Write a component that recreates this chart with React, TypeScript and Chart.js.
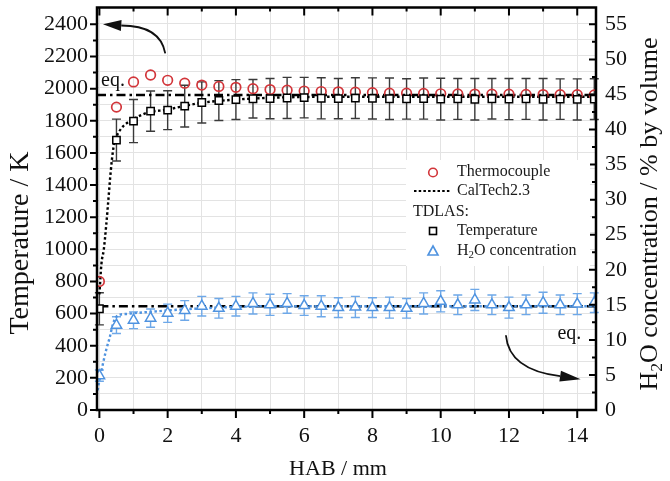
import React, { useEffect, useRef } from "react";
import { Chart, registerables } from "chart.js";
Chart.register(...registerables);

// ---------------- data ----------------
const habPositions = [0, 0.5, 1, 1.5, 2, 2.5, 3, 3.5, 4, 4.5, 5, 5.5, 6, 6.5, 7, 7.5, 8, 8.5, 9, 9.5, 10, 10.5, 11, 11.5, 12, 12.5, 13, 13.5, 14, 14.5];
const thermocoupleK = [800, 1885, 2042, 2085, 2052, 2034, 2022, 2014, 2008, 2000, 1994, 1990, 1985, 1982, 1980, 1978, 1975, 1972, 1972, 1970, 1968, 1967, 1966, 1965, 1965, 1964, 1963, 1962, 1962, 1961];
const tdlasTempK = [630, 1680, 1798, 1860, 1866, 1891, 1914, 1926, 1932, 1937, 1938, 1942, 1944, 1940, 1938, 1941, 1939, 1937, 1936, 1938, 1935, 1936, 1934, 1937, 1935, 1936, 1934, 1935, 1933, 1935];
const tdlasTempErrK = [100, 130, 134, 125, 121, 130, 128, 124, 124, 120, 125, 128, 126, 128, 125, 127, 128, 129, 126, 128, 130, 127, 129, 126, 128, 127, 129, 126, 128, 127];
const tdlasH2O = [4.9, 12.1, 12.8, 13.1, 13.8, 14.2, 14.8, 14.5, 14.8, 15.2, 15.0, 15.2, 14.9, 14.8, 14.6, 14.7, 14.6, 14.6, 14.5, 15.2, 15.5, 15.0, 15.7, 15.0, 14.6, 15.0, 15.3, 15.0, 15.1, 15.3];
const tdlasH2OErr = [0.8, 1.2, 1.2, 1.3, 1.3, 1.4, 1.4, 1.4, 1.4, 1.5, 1.5, 1.4, 1.4, 1.5, 1.4, 1.5, 1.4, 1.5, 1.4, 1.5, 1.5, 1.4, 1.5, 1.4, 1.5, 1.4, 1.5, 1.4, 1.5, 1.4];
const caltechHab = [0, 0.06, 0.13, 0.2, 0.26, 0.33, 0.41, 0.5, 0.66, 0.8, 1, 1.4, 2, 2.5, 3, 4, 5, 6, 8, 10, 12, 14.55];
const caltechTempK = [720, 910, 1000, 1150, 1300, 1480, 1630, 1700, 1757, 1785, 1811, 1850, 1870, 1893, 1912, 1932, 1943, 1948, 1950, 1950, 1950, 1950];
const caltechH2OHab = [-0.05, 0, 0.1, 0.2, 0.3, 0.4, 0.5, 0.6, 0.8, 1, 1.5, 2, 3, 4, 5, 6, 8, 10, 12, 14.55];
const caltechH2O = [2.8, 4.2, 6.5, 8.6, 10.3, 12.3, 13.3, 13.6, 13.7, 13.8, 14.0, 14.2, 14.5, 14.7, 14.8, 14.8, 14.8, 14.8, 14.8, 14.8];
const eqTempK = 1960;
const eqH2O = 14.8;
const eqRange = [-0.07, 14.55];

const tempTickLabels = [0, 200, 400, 600, 800, 1000, 1200, 1400, 1600, 1800, 2000, 2200, 2400];

const xRange = [-0.07, 14.55];
const tempRange = [0, 2505];
const h2oRange = [0, 57.4];

// ---------------- style ----------------
const SERIF = "'Liberation Serif', 'Times New Roman', Times, serif";
const RED = "#d2353a";
const BLUE = "#4f93e0";
const BLUE_ERR = "#6ea8e8";
const GRID = "#e3e3e3";

const pts = (xs: number[], ys: number[]) => xs.map((x, i) => ({ x, y: ys[i] }));

function richText(ctx: CanvasRenderingContext2D, parts: { t: string; sub?: boolean }[], x: number, y: number, size: number, align: "left" | "center") {
  const widths = parts.map((p) => {
    ctx.font = `${p.sub ? size * 0.68 : size}px ${SERIF}`;
    return ctx.measureText(p.t).width;
  });
  const total = widths.reduce((a, b) => a + b, 0);
  let cx = align === "center" ? x - total / 2 : x;
  ctx.textAlign = "left";
  ctx.textBaseline = "middle";
  parts.forEach((p, i) => {
    ctx.font = `${p.sub ? size * 0.68 : size}px ${SERIF}`;
    ctx.fillText(p.t, cx, p.sub ? y + size * 0.28 : y);
    cx += widths[i];
  });
}

const decorPlugin = {
  id: "decor",
  beforeDatasetsDraw(chart: any) {
    const { ctx } = chart;
    const xs = chart.scales.x, yL = chart.scales.y, yR = chart.scales.y2;
    const cap = 4.5;
    ctx.save();
    ctx.lineWidth = 1.4;
    ctx.strokeStyle = "#3a3a3a";
    habPositions.forEach((h, i) => {
      const px = xs.getPixelForValue(h);
      const t = yL.getPixelForValue(tdlasTempK[i] + tdlasTempErrK[i]);
      const b = yL.getPixelForValue(tdlasTempK[i] - tdlasTempErrK[i]);
      ctx.beginPath();
      ctx.moveTo(px, t); ctx.lineTo(px, b);
      ctx.moveTo(px - cap, t); ctx.lineTo(px + cap, t);
      ctx.moveTo(px - cap, b); ctx.lineTo(px + cap, b);
      ctx.stroke();
    });
    ctx.strokeStyle = BLUE_ERR;
    habPositions.forEach((h, i) => {
      const px = xs.getPixelForValue(h);
      const t = yR.getPixelForValue(tdlasH2O[i] + tdlasH2OErr[i]);
      const b = yR.getPixelForValue(tdlasH2O[i] - tdlasH2OErr[i]);
      ctx.beginPath();
      ctx.moveTo(px, t); ctx.lineTo(px, b);
      ctx.moveTo(px - cap, t); ctx.lineTo(px + cap, t);
      ctx.moveTo(px - cap, b); ctx.lineTo(px + cap, b);
      ctx.stroke();
    });
    ctx.restore();
  },
  afterDraw(chart: any) {
    const { ctx, chartArea: a } = chart;
    const xs = chart.scales.x, yL = chart.scales.y, yR = chart.scales.y2;
    ctx.save();
    // frame
    ctx.strokeStyle = "#000";
    ctx.lineWidth = 2.5;
    ctx.strokeRect(a.left, a.top, a.right - a.left, a.bottom - a.top);
    // ticks
    ctx.lineWidth = 2;
    ctx.beginPath();
    for (let v = 0; v <= 14; v++) {
      const px = xs.getPixelForValue(v);
      const len = v % 2 === 0 ? 8 : 4;
      ctx.moveTo(px, a.bottom); ctx.lineTo(px, a.bottom + len);
      ctx.moveTo(px, a.top); ctx.lineTo(px, a.top + len);
    }
    for (let v = 0; v <= 2400; v += 100) {
      const py = yL.getPixelForValue(v);
      const len = v % 200 === 0 ? 7 : 4;
      ctx.moveTo(a.left, py); ctx.lineTo(a.left - len, py);
    }
    for (let v = 0; v <= 55; v += 2.5) {
      const py = yR.getPixelForValue(v);
      const len = v % 5 === 0 ? 7 : 4;
      ctx.moveTo(a.right, py); ctx.lineTo(a.right - len, py);
    }
    ctx.stroke();

    // left tick labels
    ctx.fillStyle = "#111";
    ctx.font = `22px ${SERIF}`;
    ctx.textAlign = "right";
    ctx.textBaseline = "middle";
    tempTickLabels.forEach((v) => ctx.fillText(String(v), a.left - 9, yL.getPixelForValue(v)));

    // axis titles
    ctx.save();
    ctx.translate(21, 243);
    ctx.rotate(-Math.PI / 2);
    richText(ctx, [{ t: "Temperature / K" }], 0, 0, 28, "center");
    ctx.restore();
    ctx.save();
    ctx.translate(650, 214);
    ctx.rotate(-Math.PI / 2);
    richText(ctx, [{ t: "H" }, { t: "2", sub: true }, { t: "O concentration / % by volume" }], 0, 0, 26, "center");
    ctx.restore();
    richText(ctx, [{ t: "HAB / mm" }], 338, 469, 22, "center");

    // eq labels
    ctx.fillStyle = "#111";
    ctx.font = `20px ${SERIF}`;
    ctx.textBaseline = "alphabetic";
    ctx.textAlign = "left";
    ctx.fillText("eq.", xs.getPixelForValue(0.05), yL.getPixelForValue(2015));
    ctx.textAlign = "right";
    ctx.fillText("eq.", xs.getPixelForValue(14.12), yR.getPixelForValue(10.1));

    // arrows
    const arrow = (s: number[], c: number[], e: number[], tip: number[]) => {
      ctx.strokeStyle = "#111";
      ctx.fillStyle = "#111";
      ctx.lineWidth = 1.8;
      ctx.beginPath();
      ctx.moveTo(s[0], s[1]);
      ctx.quadraticCurveTo(c[0], c[1], e[0], e[1]);
      ctx.stroke();
      const ang = Math.atan2(tip[1] - e[1], tip[0] - e[0]);
      const len = Math.hypot(tip[0] - e[0], tip[1] - e[1]);
      const hw = 5.5;
      const bx = tip[0] - Math.cos(ang) * len, by = tip[1] - Math.sin(ang) * len;
      ctx.beginPath();
      ctx.moveTo(tip[0], tip[1]);
      ctx.lineTo(bx + Math.sin(ang) * hw, by - Math.cos(ang) * hw);
      ctx.lineTo(bx - Math.sin(ang) * hw, by + Math.cos(ang) * hw);
      ctx.closePath();
      ctx.fill();
    };
    const L = (x: number, y: number) => [xs.getPixelForValue(x), yL.getPixelForValue(y)];
    const R = (x: number, y: number) => [xs.getPixelForValue(x), yR.getPixelForValue(y)];
    arrow(L(1.93, 2220), L(1.78, 2393), L(0.64, 2393), L(0.105, 2400));
    arrow(R(11.91, 10.66), R(12.0, 5.7), R(13.5, 4.83), R(14.1, 4.4));

    // legend
    ctx.fillStyle = "#fff";
    ctx.fillRect(406, 160, 184, 106);
    const fs = 16;
    ctx.fillStyle = "#1a1a1a";
    richText(ctx, [{ t: "Thermocouple" }], 457, 172, fs, "left");
    richText(ctx, [{ t: "CalTech2.3" }], 457, 191, fs, "left");
    richText(ctx, [{ t: "TDLAS:" }], 413, 212, fs, "left");
    richText(ctx, [{ t: "Temperature" }], 457, 231, fs, "left");
    richText(ctx, [{ t: "H" }, { t: "2", sub: true }, { t: "O concentration" }], 457, 251, fs, "left");
    ctx.lineWidth = 1.6;
    ctx.strokeStyle = RED;
    ctx.beginPath(); ctx.arc(433, 172.5, 4.3, 0, Math.PI * 2); ctx.stroke();
    ctx.strokeStyle = "#000";
    ctx.lineWidth = 2.2;
    ctx.setLineDash([2.5, 2.2]);
    ctx.beginPath(); ctx.moveTo(414, 191); ctx.lineTo(451, 191); ctx.stroke();
    ctx.setLineDash([]);
    ctx.lineWidth = 1.6;
    ctx.strokeRect(429.5, 227.5, 7, 7);
    ctx.strokeStyle = BLUE;
    ctx.beginPath(); ctx.moveTo(433, 246); ctx.lineTo(438, 255); ctx.lineTo(428, 255); ctx.closePath(); ctx.stroke();
    ctx.restore();
  },
};

const zeroPadV = (s: any, w: number) => { s.width = w; s.paddingTop = 0; s.paddingBottom = 0; };

export default function App() {
  const ref = useRef<HTMLCanvasElement>(null);
  useEffect(() => {
    const canvas = ref.current!;
    const chart = new Chart(canvas, {
      type: "scatter",
      data: {
        datasets: [
          {
            label: "Thermocouple",
            data: pts(habPositions, thermocoupleK),
            yAxisID: "y",
            pointStyle: "circle",
            pointRadius: 4.8,
            borderColor: RED,
            backgroundColor: "rgba(0,0,0,0)",
            pointBorderWidth: 1.7,
            showLine: false,
            order: 1,
          },
          {
            label: "TDLAS Temperature",
            data: pts(habPositions, tdlasTempK),
            yAxisID: "y",
            pointStyle: "rect",
            pointRadius: 5.2,
            borderColor: "#000",
            backgroundColor: "#fff",
            pointBorderWidth: 1.5,
            showLine: false,
            order: 0,
          },
          {
            label: "H2O concentration",
            data: pts(habPositions, tdlasH2O),
            yAxisID: "y2",
            pointStyle: "triangle",
            pointRadius: 6,
            borderColor: BLUE,
            backgroundColor: "#fff",
            pointBorderWidth: 1.5,
            showLine: false,
            order: 0,
          },
          {
            type: "line",
            label: "CalTech2.3",
            data: pts(caltechHab, caltechTempK),
            yAxisID: "y",
            borderColor: "#000",
            borderWidth: 2.4,
            borderDash: [2.5, 2.5],
            pointRadius: 0,
            cubicInterpolationMode: "monotone",
            fill: false,
            order: 6,
          },
          {
            type: "line",
            label: "CalTech2.3 H2O",
            data: pts(caltechH2OHab, caltechH2O),
            yAxisID: "y2",
            borderColor: BLUE,
            borderWidth: 2.4,
            borderDash: [2.5, 2.5],
            pointRadius: 0,
            cubicInterpolationMode: "monotone",
            fill: false,
            order: 6,
          },
          {
            type: "line",
            label: "eq T",
            data: pts(eqRange, [eqTempK, eqTempK]),
            yAxisID: "y",
            borderColor: "#000",
            borderWidth: 2.4,
            borderDash: [9, 4, 2.5, 4],
            pointRadius: 0,
            fill: false,
            order: 7,
          },
          {
            type: "line",
            label: "eq H2O",
            data: pts([0, eqRange[1]], [eqH2O, eqH2O]),
            yAxisID: "y2",
            borderColor: "#000",
            borderWidth: 2.4,
            borderDash: [9, 4, 2.5, 4],
            pointRadius: 0,
            fill: false,
            order: 7,
          },
        ],
      },
      options: {
        animation: false,
        responsive: false,
        devicePixelRatio: 1,
        layout: { padding: { top: 6, left: 0, right: 0, bottom: 0 } },
        plugins: { legend: { display: false }, tooltip: { enabled: false } },
        scales: {
          x: {
            type: "linear",
            position: "bottom",
            min: xRange[0],
            max: xRange[1],
            afterFit: (s: any) => { s.height = 71; s.paddingLeft = 0; s.paddingRight = 0; },
            grid: { color: GRID, lineWidth: 1, drawTicks: false },
            border: { display: false },
            ticks: {
              stepSize: 1,
              maxTicksLimit: 1000,
              includeBounds: false,
              autoSkip: false,
              maxRotation: 0,
              padding: 13,
              color: "#111",
              font: { family: SERIF, size: 22 },
              callback: (v: any) => (Math.round(v) % 2 === 0 ? String(Math.round(v)) : ""),
            },
          },
          y: {
            type: "linear",
            position: "left",
            min: tempRange[0],
            max: tempRange[1],
            afterFit: (s: any) => zeroPadV(s, 97),
            grid: { color: GRID, lineWidth: 1, drawTicks: false },
            border: { display: false },
            ticks: {
              stepSize: 100,
              maxTicksLimit: 1000,
              includeBounds: false,
              autoSkip: false,
              display: true,
              color: "rgba(0,0,0,0)",
              font: { family: SERIF, size: 22 },
              callback: () => "",
            },
          },
          y2: {
            type: "linear",
            position: "right",
            min: h2oRange[0],
            max: h2oRange[1],
            afterFit: (s: any) => zeroPadV(s, 74),
            grid: { display: false, drawTicks: false },
            border: { display: false },
            ticks: {
              stepSize: 5,
              maxTicksLimit: 1000,
              includeBounds: false,
              autoSkip: false,
              padding: 9,
              color: "#111",
              font: { family: SERIF, size: 22 },
              callback: (v: any) => String(Math.round(v)),
            },
          },
        },
      },
      plugins: [decorPlugin],
    } as any);
    return () => chart.destroy();
  }, []);
  return (
    <div style={{ position: "fixed", left: 0, top: 0, width: 670, height: 481, background: "#fff" }}>
      <canvas ref={ref} width={670} height={481} style={{ display: "block", width: 670, height: 481 }} />
    </div>
  );
}
